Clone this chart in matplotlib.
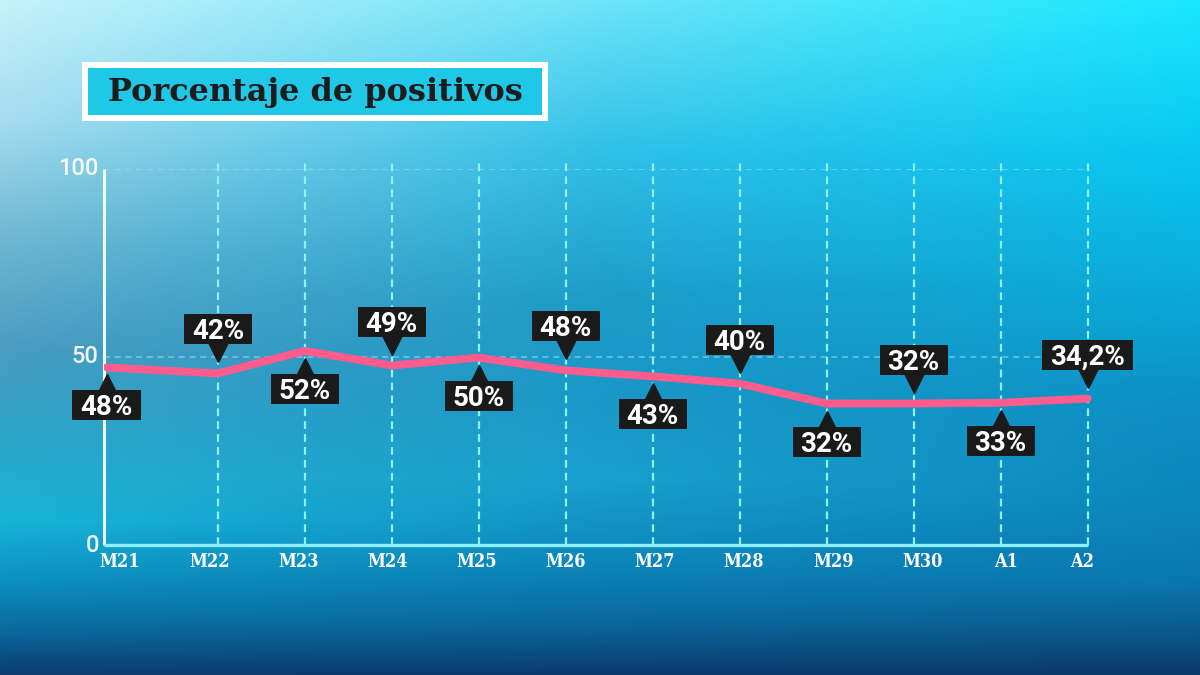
import numpy as np
import matplotlib
matplotlib.use('Agg')
import matplotlib.pyplot as plt
from matplotlib.patches import Rectangle
from matplotlib.transforms import offset_copy, Affine2D, ScaledTranslation
from matplotlib.colors import to_rgb

# Data
weeks = ['M21', 'M22', 'M23', 'M24', 'M25', 'M26', 'M27', 'M28', 'M29', 'M30', 'A1', 'A2']
line_values = [47.2, 45.6, 51.6, 47.7, 49.8, 46.4, 44.8, 42.9, 37.6, 37.6, 37.8, 38.9]
point_labels = ['48%', '42%', '52%', '49%', '50%', '48%', '43%', '40%', '32%', '32%', '33%', '34,2%']
label_above = [False, True, False, True, False, True, False, True, False, True, False, True]
y_ticks = [0, 50, 100]

W, H = 1200, 675
fig = plt.figure(figsize=(12, 6.75), dpi=100)

# Background gradient (three vertical colour profiles blended horizontally)
def column(stops, n=H):
    ys = np.array([s[0] for s in stops]) / H
    cols = np.array([to_rgb(s[1]) for s in stops])
    t = np.linspace(0, 1, n)
    return np.stack([np.interp(t, ys, cols[:, c]) for c in range(3)], axis=1)

left_col = column([(0, '#c6f2fa'), (120, '#a6dcee'), (250, '#6ab4d0'), (350, '#4a9cc0'),
                   (450, '#2aa8cc'), (520, '#18b4d8'), (580, '#0c92c0'), (630, '#0a6aa0'), (675, '#0a3d6e')])
mid_col = column([(0, '#6ee4f8'), (150, '#30c0e8'), (300, '#1c9cc8'), (400, '#1a98c8'),
                  (480, '#18a0cc'), (560, '#0c88bc'), (620, '#0a6aa0'), (675, '#0a3b6c')])
right_col = column([(0, '#18e8ff'), (150, '#08c8f0'), (300, '#0aa8d8'), (400, '#0c90c4'),
                    (500, '#0c86bc'), (580, '#0a78b0'), (630, '#0a5a90'), (675, '#0a3a68')])
tx = np.linspace(0, 1, W)[None, :, None]
w_left = np.clip(1 - 2 * tx, 0, 1)
w_right = np.clip(2 * tx - 1, 0, 1)
w_mid = 1 - w_left - w_right
img = w_left * left_col[:, None, :] + w_mid * mid_col[:, None, :] + w_right * right_col[:, None, :]

bg = fig.add_axes([0, 0, 1, 1], zorder=-1)
bg.imshow(img, aspect='auto', extent=[0, 1, 0, 1], origin='upper')
bg.axis('off')

# Main axes
ax = fig.add_axes([104 / W, (H - 545) / H, 988 / W, 376.3 / H])
ax.set_facecolor('none')
ax.set_xlim(-0.31, 11.05)
ax.set_ylim(0, 100)
for s in ax.spines.values():
    s.set_visible(False)
ax.set_xticks([])
ax.set_yticks([])

x = np.arange(len(weeks), dtype=float)
x[0] = -0.28  # first point sits on the y axis

grid_c = '#8ff0ff'
ax.vlines(x[1:], 0, 101.5, colors=grid_c, lw=1.6, linestyles=(0, (3.5, 2.3)), clip_on=False, zorder=1)
for yt in y_ticks[1:]:
    ax.hlines(yt, -0.31, 11, colors='#a8eaf8', lw=1.1, alpha=0.55,
              linestyles=(0, (4, 3)), zorder=1)
ax.plot([-0.31, -0.31], [0, 100], color='#eafcff', lw=2.2, solid_capstyle='butt', zorder=2, clip_on=False)
ax.plot([-0.31, 11], [0, 0], color=grid_c, lw=2.4, solid_capstyle='butt', zorder=2, clip_on=False)

ax.plot(x, line_values, color='#ff5c8d', lw=5.6, solid_capstyle='round',
        solid_joinstyle='round', zorder=3)

# Value labels in black boxes with pointer
box_c = '#1a1a1a'
fig.canvas.draw()
renderer = fig.canvas.get_renderer()
for xi, yi, lab, up in zip(x, line_values, point_labels, label_above):
    if up:
        dy_box, dy_tri, mk = 44, 21, 'v'
    else:
        dy_box, dy_tri, mk = -38, -17, '^'
    tr_txt = offset_copy(ax.transData, fig=fig, x=0, y=dy_box - 10, units='dots')
    tr_tri = offset_copy(ax.transData, fig=fig, x=0, y=dy_tri, units='dots')
    ax.plot([xi], [yi], marker=mk, color=box_c, markersize=14, transform=tr_tri,
            clip_on=False, zorder=4)
    t = ax.text(xi, yi, lab, transform=tr_txt, ha='center', va='baseline', color='white',
                fontsize=20, fontweight='bold', family='Roboto', zorder=5)
    wpx = t.get_window_extent(renderer).width + 16
    box_tr = Affine2D() + ScaledTranslation(xi, yi, ax.transData)
    ax.add_patch(Rectangle((-wpx / 2, dy_box - 15), wpx, 30, transform=box_tr,
                           fc=box_c, ec='none', zorder=4.5, clip_on=False))

# Axis labels
label_x = [-0.13, 0.9, 1.93, 2.95, 3.98, 5.0, 6.02, 7.05, 8.08, 9.1, 10.06, 10.94]
for lx, wk in zip(label_x, weeks):
    ax.text(lx, -0.045, wk, transform=ax.get_xaxis_transform(), ha='center', va='center',
            color='white', fontsize=13, fontweight='bold', family='DejaVu Serif',
            fontstretch='condensed')
for yt in y_ticks:
    ax.text(-0.37, yt, str(yt), ha='right', va='center', color='white', alpha=0.92,
            fontsize=17, fontweight='medium', family='Roboto')

# Title box
fig.patches.append(Rectangle((82 / W, 1 - 121 / H), 466 / W, 59 / H, transform=fig.transFigure,
                             fc='white', ec='none', zorder=1))
fig.patches.append(Rectangle((88 / W, 1 - 115 / H), 454 / W, 47 / H, transform=fig.transFigure,
                             fc='#20c8e8', ec='none', zorder=2))
fig.text(315 / W, 1 - 92 / H, 'Porcentaje de positivos', ha='center', va='center',
         color='#1c1c1c', fontsize=23, fontweight='bold', family='DejaVu Serif', zorder=3)

fig.savefig('out.png', dpi=100)
